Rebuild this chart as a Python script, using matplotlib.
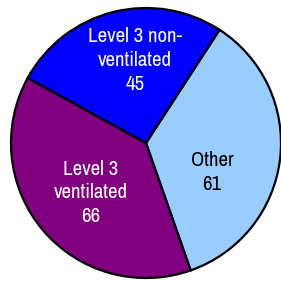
import matplotlib
matplotlib.use('Agg')
import matplotlib.pyplot as plt

# Dados
categorias = ['Other', 'Level 3\nventilated', 'Level 3 non-\nventilated']
valores = [61, 66, 45]
cores = ['#99CCFF', '#800080', '#0000FF']
cores_texto = ['black', 'white', 'white']

fonte = ['Archivo Narrow', 'PT Sans Narrow', 'Liberation Sans']

fig = plt.figure(figsize=(2.81, 2.82), dpi=100)
ax = fig.add_axes([0, 0, 1, 1])

ax.pie(valores, colors=cores, startangle=57, counterclock=False,
       wedgeprops=dict(edgecolor='black', linewidth=1.6))

# posicoes dos rotulos (fracao do raio)
pos = [(0.49, -0.22), (-0.41, -0.37), (-0.08, 0.61)]
for cat, v, c, (x, y) in zip(categorias, valores, cores_texto, pos):
    ax.text(x, y, cat + '\n' + str(v), ha='center', va='center', color=c,
            fontsize=15, family=fonte, linespacing=1.32)

ax.set_xlim(-146 / 135, 135 / 135)
ax.set_ylim(-139 / 135, 143 / 135)
ax.set_aspect('auto')
ax.axis('off')

plt.savefig('out.png', dpi=100)
